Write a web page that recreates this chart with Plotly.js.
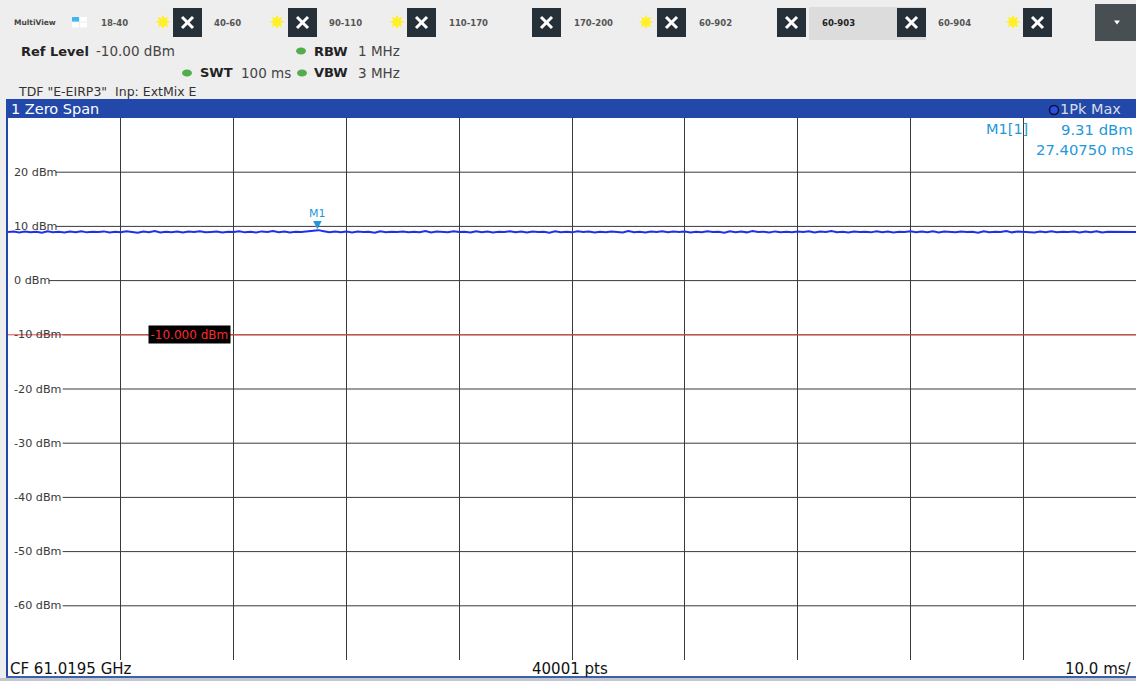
<!DOCTYPE html>
<html>
<head>
<meta charset="utf-8">
<script src="https://cdn.plot.ly/plotly-3.0.1.min.js"></script>
<style>html,body{margin:0;padding:0;background:#eeeeee;overflow:hidden}#chart{width:1136px;height:681px}</style>
</head>
<body>
<div id="chart"></div>
<script>
// ---------------- data ----------------
const sweepTimeMs = 100;               // 10 divisions x 10.0 ms/
const traceDbm = [
 8.96, 9.04, 8.88, 9.07, 8.92, 9.01, 8.85, 9.10, 8.94, 8.99, 8.87, 9.06, 8.93, 9.12, 8.90, 9.02, 8.95, 9.08, 8.86, 9.03,
 8.91, 9.09, 8.97, 8.84, 9.05, 8.93, 9.13, 8.89, 9.00, 8.94, 9.07, 8.88, 9.04, 8.96, 9.11, 8.92, 8.98, 9.06, 8.87, 9.02,
 8.95, 9.10, 8.90, 9.03, 8.86, 9.08, 8.97, 9.14, 8.93, 9.05, 8.89, 9.01, 8.96, 9.09, 9.18, 9.31, 9.12, 8.94, 9.06, 8.91,
 9.04, 8.88, 9.07, 8.95, 9.00, 8.85, 9.11, 8.92, 9.03, 8.97, 9.08, 8.90, 9.02, 8.94, 9.13, 8.87, 9.05, 8.99, 8.91, 9.09,
 8.96, 9.02, 8.86, 9.10, 8.93, 9.06, 8.89, 9.01, 8.97, 9.12, 8.92, 9.04, 8.88, 9.07, 8.95, 9.00, 8.84, 9.09, 8.94, 9.03,
 8.90, 9.11, 8.96, 9.05, 8.87, 9.02, 8.93, 9.08, 8.99, 8.89, 9.14, 8.94, 9.01, 8.86, 9.06, 8.97, 9.10, 8.91, 9.04, 8.95,
 9.07, 8.88, 9.03, 8.92, 9.12, 8.96, 9.00, 8.85, 9.09, 8.93, 9.05, 8.90, 9.13, 8.97, 9.02, 8.87, 9.08, 8.94, 9.01, 8.91,
 9.06, 8.98, 9.11, 8.89, 9.04, 8.95, 9.15, 8.92, 9.00, 8.86, 9.07, 8.96, 9.03, 8.90, 9.10, 8.93, 9.05, 8.88, 9.02, 8.97,
 9.09, 8.91, 9.04, 8.94, 9.12, 8.87, 9.06, 8.99, 8.92, 9.08, 8.95, 9.01, 8.85, 9.11, 8.93, 9.03, 8.96, 9.14, 8.90, 9.05,
 8.97, 9.02, 8.88, 9.07, 8.94, 9.10, 8.91, 9.00, 8.96, 9.06, 8.89, 9.04, 8.93, 9.12, 8.87, 9.01, 8.98, 9.08, 8.92, 9.03,
 8.95
];
const traceTimeMs = traceDbm.map((_, i) => i * sweepTimeMs / (traceDbm.length - 1));

const yTickVals   = [20, 10, 0, -10, -20, -30, -40, -50, -60];
const yTickLabels = ['20 dBm', '10 dBm', '0 dBm', '-10 dBm', '-20 dBm', '-30 dBm', '-40 dBm', '-50 dBm', '-60 dBm'];
const yRange = [-70, 30];
const xRange = [0, 100];

const refLevelDbm = -10;
const refLevelLabel = '-10.000 dBm';
const markerName = 'M1';
const markerTimeMs = 27.4075;
const markerLevelDbm = 9.31;
const markerReadLabel = 'M1[1]';
const markerLevelText = '9.31 dBm';
const markerTimeText = '27.40750 ms';

const tabLabels = ['18-40', '40-60', '90-110', '110-170', '170-200', '60-902', '60-903', '60-904'];
const windowTitle = '1 Zero Span';
const traceModeLabel = '1Pk Max';
const footerLeft = 'CF 61.0195 GHz';
const footerCenter = '40001 pts';
const footerRight = '10.0 ms/';

// ---------------- geometry helpers (pixel -> paper) ----------------
const W = 1136, H = 681;
const PL = 8, PR = 1136, PT = 118, PB = 660;
const fx = x => x / W;
const fy = y => 1 - y / H;
const pxToMs = x => (x - PL) / (PR - PL) * (xRange[1] - xRange[0]) + xRange[0];

const FONT = 'DejaVu Sans, Verdana, sans-serif';
const shapes = [];
const ann = [];

function rect(x0, y0, x1, y1, fill, line) {
  shapes.push({type: 'rect', xref: 'paper', yref: 'paper', x0: fx(x0), x1: fx(x1), y0: fy(y1), y1: fy(y0),
    fillcolor: fill, line: {width: line ? 1 : 0, color: line || fill}});
}
function seg(x0, y0, x1, y1, color, width) {
  shapes.push({type: 'line', xref: 'paper', yref: 'paper', x0: fx(x0), x1: fx(x1), y0: fy(y0), y1: fy(y1),
    line: {color: color, width: width}});
}
function ellipse(cx, cy, rx, ry, fill, lineColor, lw) {
  shapes.push({type: 'circle', xref: 'paper', yref: 'paper', x0: fx(cx - rx), x1: fx(cx + rx), y0: fy(cy + ry), y1: fy(cy - ry),
    fillcolor: fill, line: {color: lineColor || fill, width: lw || 0}});
}
function star(cx, cy, ro, ri, n, fill) {
  let p = '';
  for (let i = 0; i < 2 * n; i++) {
    const r = i % 2 === 0 ? ro : ri;
    const a = -Math.PI / 2 + i * Math.PI / n;
    const x = cx + r * Math.cos(a), y = cy + r * Math.sin(a);
    p += (i === 0 ? 'M' : 'L') + fx(x).toFixed(5) + ',' + fy(y).toFixed(5);
  }
  shapes.push({type: 'path', xref: 'paper', yref: 'paper', path: p + 'Z', fillcolor: fill, line: {width: 0}});
}
function tri(cx, cy, w, h, fill) {
  const p = 'M' + fx(cx - w / 2) + ',' + fy(cy - h / 2) + 'L' + fx(cx + w / 2) + ',' + fy(cy - h / 2) + 'L' + fx(cx) + ',' + fy(cy + h / 2) + 'Z';
  shapes.push({type: 'path', xref: 'paper', yref: 'paper', path: p, fillcolor: fill, line: {width: 0}});
}
function text(x, y, t, size, color, anchor, bold, family) {
  ann.push({xref: 'paper', yref: 'paper', x: fx(x), y: fy(y), text: bold ? '<b>' + t + '</b>' : t,
    showarrow: false, xanchor: anchor || 'left', yanchor: 'middle', borderpad: 0,
    font: {family: family || FONT, size: size, color: color}});
}

// ---------------- header strip ----------------
rect(809, 7, 926, 40, '#dcdcdc');                      // selected tab
text(13, 22, 'MultiView', 7.5, '#444', 'left', true, 'DejaVu Sans');
rect(72, 17, 79, 21.5, '#3fb6ef');
rect(80, 17, 87, 21.5, '#ffffff');
rect(72, 22.5, 79, 27.5, '#ffffff');
rect(80, 22.5, 87, 27.5, '#ffffff');

const tabTextX = [100, 213, 328, 448, 573, 698, 821, 937];
tabLabels.forEach((t, i) => text(tabTextX[i], 22.5, t, 8.5, i === 6 ? '#222' : '#555', 'left', true, 'DejaVu Sans'));

[163, 277, 397, 646, 1013].forEach(cx => star(cx, 22, 7.5, 4, 8, '#fff02a'));
[173, 288, 407, 532, 657, 777, 897, 1023].forEach(x0 => {
  rect(x0, 8, x0 + 29, 37, '#263039');
  const cx = x0 + 14.5, cy = 22.5;
  seg(cx - 5.5, cy - 5.5, cx + 5.5, cy + 5.5, '#ffffff', 3);
  seg(cx - 5.5, cy + 5.5, cx + 5.5, cy - 5.5, '#ffffff', 3);
});
rect(1095, 4, 1136, 41, '#474f53');
tri(1117, 22.5, 6, 4, '#ffffff');

// setting rows
text(20, 51, 'Ref Level', 13, '#222', 'left', true);
text(95, 51, '-10.00 dBm', 13.5, '#444');
ellipse(301, 51, 5, 3.5, '#52ad4c');
text(313, 51, 'RBW', 13, '#222', 'left', true);
text(357, 51, '1 MHz', 13.5, '#444');
ellipse(187, 73, 5, 3.5, '#52ad4c');
text(199, 73, 'SWT', 13, '#222', 'left', true);
text(240, 73, '100 ms', 13.5, '#444');
ellipse(302, 73, 5, 3.5, '#52ad4c');
text(313, 73, 'VBW', 13, '#222', 'left', true);
text(357, 73, '3 MHz', 13.5, '#444');
text(17, 91, 'TDF "E-EIRP3"  Inp: ExtMix E', 12.5, '#333');

// window title bar
rect(6, 99, 1136, 118, '#2248a9');
text(10, 108.5, windowTitle, 14.5, '#ffffff');
ellipse(1054, 110, 4.5, 4.5, '#2d4fe0', '#0b1030', 1.5);
text(1122, 109, traceModeLabel, 14.5, '#d6dcea', 'right');

// left border + footer
rect(6, 99, 8, 678, '#2248a9');
rect(8, 660, 1136, 676, '#ffffff');
rect(6, 676, 1136, 678, '#3b5fae');
rect(0, 678, 1136, 681, '#c4c8ce');
text(9, 668.5, footerLeft, 15, '#111');
text(570, 668.5, footerCenter, 15, '#111', 'center');
text(1133, 668.5, footerRight, 15, '#111', 'right');

// ---------------- plot-area shapes ----------------
yTickVals.forEach((v, i) => {
  const labelEnd = 13 + yTickLabels[i].length * 6.95 + 1;
  shapes.push({type: 'line', xref: 'x', yref: 'y', layer: 'below', x0: pxToMs(labelEnd), x1: xRange[1], y0: v, y1: v,
    line: {color: '#3a3a3a', width: 1}});
  ann.push({xref: 'paper', yref: 'y', x: fx(13), y: v, text: yTickLabels[i], showarrow: false,
    xanchor: 'left', yanchor: 'middle', borderpad: 0, font: {family: FONT, size: 11.2, color: '#3a3a3a'}});
});
shapes.push({type: 'line', xref: 'x', yref: 'y', x0: xRange[0], x1: xRange[1], y0: refLevelDbm, y1: refLevelDbm,
  line: {color: '#e8423c', width: 1}});
ann.push({xref: 'x', yref: 'y', x: pxToMs(148), y: refLevelDbm, text: refLevelLabel, showarrow: false,
  xanchor: 'left', yanchor: 'middle', bgcolor: '#000000', borderpad: 1.5,
  font: {family: FONT, size: 12, color: '#ff2a2a'}});

// marker symbol and label
ann.push({xref: 'x', yref: 'y', x: markerTimeMs, y: markerLevelDbm, text: '▼', showarrow: false,
  xanchor: 'center', yanchor: 'bottom', yshift: -2, borderpad: 0, font: {family: FONT, size: 11, color: '#1e98d8'}});
ann.push({xref: 'x', yref: 'y', x: markerTimeMs, y: markerLevelDbm, text: markerName, showarrow: false,
  xanchor: 'center', yanchor: 'bottom', yshift: 9, borderpad: 0, font: {family: FONT, size: 11, color: '#1e98d8'}});

// marker readout
text(985, 129, markerReadLabel, 14.5, '#1e98d8');
text(1134, 129, markerLevelText, 14.8, '#1e98d8', 'right');
text(1134, 150, markerTimeText, 14.8, '#1e98d8', 'right');

// ---------------- traces ----------------
const data = [{
  type: 'scatter', mode: 'lines', x: traceTimeMs, y: traceDbm,
  line: {color: '#1f2ff0', width: 2}, hoverinfo: 'skip'
}];

const layout = {
  width: W, height: H,
  margin: {l: 0, r: 0, t: 0, b: 0, pad: 0, autoexpand: false},
  paper_bgcolor: '#eeeeee', plot_bgcolor: '#ffffff',
  showlegend: false,
  xaxis: {domain: [fx(PL), fx(PR)], range: xRange, dtick: 10, tick0: 0, showgrid: true,
    gridcolor: '#3a3a3a', gridwidth: 1, zeroline: false, showticklabels: false, ticks: '',
    showline: true, linecolor: '#444', linewidth: 1, fixedrange: true},
  yaxis: {domain: [fy(PB), fy(PT)], range: yRange, showgrid: false, zeroline: false,
    showticklabels: false, ticks: '', fixedrange: true},
  shapes: shapes,
  annotations: ann
};

Plotly.newPlot('chart', data, layout, {staticPlot: true, displayModeBar: false});
</script>
</body>
</html>
